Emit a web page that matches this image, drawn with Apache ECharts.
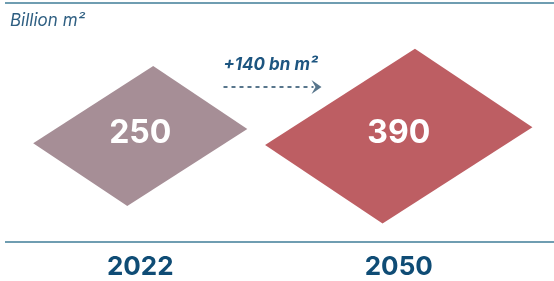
<!DOCTYPE html>
<html>
<head>
<meta charset="utf-8">
<script src="https://cdn.jsdelivr.net/npm/echarts@6/dist/echarts.min.js"></script>
<style>html,body{margin:0;padding:0;background:#fff}#main{width:554px;height:281px}</style>
</head>
<body>
<div id="main"></div>
<script>
// data
var years = ['2022', '2050'];
var area = [250, 390];          // billion m2
var unitLabel = 'Billion m²';
var colors = ['#a68e96', '#bd5e63'];

var FONT = 'Inter, "Liberation Sans", sans-serif';
var LEVEL = 44.5; // diamond centre, % of plot height
var myChart = echarts.init(document.getElementById('main'));

function renderDiamond(params, api) {
    var c = api.coord([api.value(0), LEVEL]);
    var s = Math.sqrt(api.value(1));
    // area ~ value, skewed rhombus edges
    var ax = 5.95 * s, ay = 3.98 * s, bx = -7.59 * s, by = 4.87 * s;
    var tx = c[0] - (ax + bx) / 2, ty = c[1] - (ay + by) / 2;
    return {
        type: 'group',
        children: [{
            type: 'polygon',
            shape: {points: [[tx, ty], [tx + ax, ty + ay], [tx + ax + bx, ty + ay + by], [tx + bx, ty + by]]},
            style: {fill: colors[params.dataIndex]}
        }, {
            type: 'text',
            x: c[0], y: c[1] - 3,
            style: {
                text: String(api.value(1)), fill: '#fff',
                fontSize: 32, fontWeight: 'bold', fontFamily: FONT,
                align: 'center', verticalAlign: 'middle'
            }
        }]
    };
}

var option = {
    animation: false,
    title: {
        text: unitLabel, left: 10, top: 12, padding: 0,
        textStyle: {color: '#2f5f82', fontSize: 17, fontStyle: 'italic', fontWeight: 'normal', fontFamily: FONT}
    },
    grid: {left: 11, right: 26, top: 4, bottom: 39},
    xAxis: {
        type: 'category',
        data: years,
        axisLine: {show: false},
        axisTick: {show: false},
        axisLabel: {margin: 12, color: '#0f4c75', fontSize: 26, fontWeight: 'bold', fontFamily: FONT}
    },
    yAxis: {type: 'value', min: 0, max: 100, show: false},
    series: [{
        type: 'custom',
        renderItem: renderDiamond,
        data: area.map(function (v, i) { return [i, v]; })
    }]
};
myChart.setOption(option);

// rules + change arrow
var p0 = myChart.convertToPixel({xAxisIndex: 0}, years[0]);
var p1 = myChart.convertToPixel({xAxisIndex: 0}, years[1]);
var mid = (p0 + p1) / 2;
var ruleColor = '#6f9db1', arrowColor = '#58768c';
myChart.setOption({
    graphic: [
        {type: 'line', shape: {x1: 5, y1: 3, x2: 554, y2: 3}, style: {stroke: ruleColor, lineWidth: 2}},
        {type: 'line', shape: {x1: 5, y1: 242, x2: 554, y2: 242}, style: {stroke: ruleColor, lineWidth: 2}},
        {type: 'line', shape: {x1: mid - 46, y1: 87, x2: mid + 44, y2: 87},
            style: {stroke: arrowColor, lineWidth: 2, lineDash: [4, 4]}},
        {type: 'polygon', shape: {points: [[mid + 52, 87], [mid + 42, 80], [mid + 46, 87], [mid + 42, 94]]},
            style: {fill: arrowColor}},
        {type: 'text', x: mid + 1, y: 65,
            style: {
                text: '+' + (area[1] - area[0]) + ' bn m²', fill: '#1d5580',
                fontSize: 17, fontWeight: 'bold', fontStyle: 'italic', fontFamily: FONT,
                align: 'center', verticalAlign: 'middle'
            }}
    ]
});
</script>
</body>
</html>
